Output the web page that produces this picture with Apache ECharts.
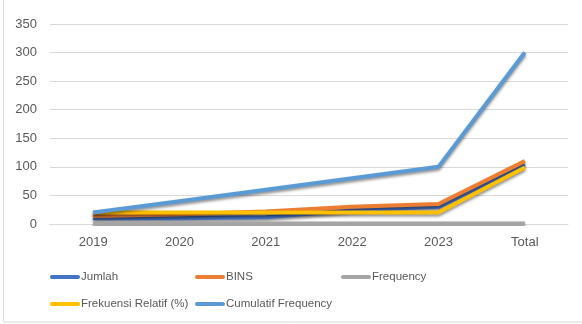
<!DOCTYPE html>
<html>
<head>
    <meta charset="utf-8">
    <title>Chart</title>
    <script src="https://cdn.jsdelivr.net/npm/echarts@6/dist/echarts.min.js"></script>
</head>
<body style="margin:0">
    <div id="main" style="width:582px;height:324px;"></div>
    <script type="text/javascript">
        // data
        var categories = ['2019', '2020', '2021', '2022', '2023', 'Total'];
        var jumlah = [10, 10, 12, 24, 30, 104];
        var bins = [14, 17, 22, 30, 35, 110];
        var frequency = [1, 1, 1, 1, 1, 1];
        var frekRelatif = [20, 20, 20, 20, 20, 99];
        var cumulatif = [20, 40, 60, 80, 100, 300];
        var yTicks = { min: 0, max: 350, interval: 50 };

        var names = ['Jumlah', 'BINS', 'Frequency', 'Frekuensi Relatif (%)', 'Cumulatif Frequency'];
        var colors = ['#4472C4', '#ED7D31', '#A5A5A5', '#FFC000', '#5B9BD5'];
        var values = [jumlah, bins, frequency, frekRelatif, cumulatif];
        // legend slots (Excel-like grid)
        var legendPos = [[50, 271], [195, 271], [341, 271], [50, 298], [195, 298]];

        var font = '"Liberation Sans", Arial, sans-serif';
        var myChart = echarts.init(document.getElementById('main'));

        var series = [];
        var legends = [];
        for (var i = 0; i < names.length; i++) {
            series.push({
                name: names[i],
                type: 'line',
                data: values[i],
                showSymbol: false,
                symbol: 'none',
                z: 2 + i,
                lineStyle: {
                    width: 4,
                    color: colors[i],
                    shadowColor: 'rgba(0,0,0,0.45)',
                    shadowBlur: 3,
                    shadowOffsetY: 2
                },
                itemStyle: { color: colors[i] }
            });
            legends.push({
                left: legendPos[i][0],
                top: legendPos[i][1],
                padding: 0,
                itemWidth: 30,
                itemHeight: 4,
                itemGap: 0,
                data: [{ name: names[i], icon: 'path://M2,0H28A2,2 0 0 1 28,4H2A2,2 0 0 1 2,0Z' }],
                textStyle: { color: '#595959', fontSize: 11.5, fontFamily: font, padding: [0, 0, 0, -4] }
            });
        }

        var option = {
            animation: false,
            backgroundColor: '#fff',
            graphic: [{
                type: 'rect',
                shape: { x: 3.5, y: -2, width: 600, height: 324 },
                style: { fill: 'none', stroke: '#D9D9D9', lineWidth: 1 },
                silent: true
            }],
            grid: { left: 50, right: 14, top: 24, bottom: 100 },
            legend: legends,
            xAxis: {
                type: 'category',
                data: categories,
                boundaryGap: true,
                axisLine: { show: true, lineStyle: { color: '#D9D9D9' } },
                axisTick: { show: false },
                axisLabel: { color: '#595959', fontSize: 13, fontFamily: font, margin: 12 }
            },
            yAxis: {
                type: 'value',
                min: yTicks.min,
                max: yTicks.max,
                interval: yTicks.interval,
                axisLine: { show: false },
                axisTick: { show: false },
                axisLabel: { color: '#595959', fontSize: 13, fontFamily: font, margin: 13 },
                splitLine: { lineStyle: { color: '#D9D9D9', width: 1 } }
            },
            series: series
        };

        myChart.setOption(option);
    </script>
</body>
</html>
